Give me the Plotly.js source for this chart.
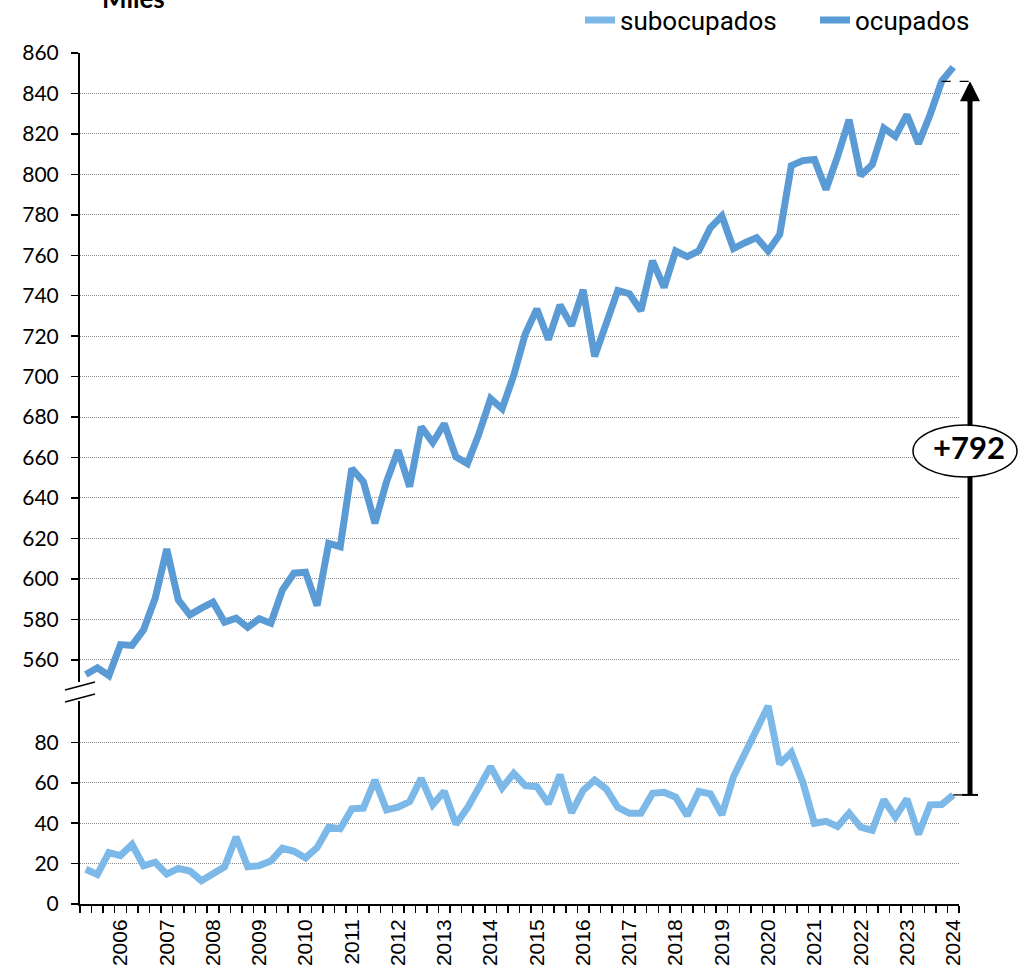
<!DOCTYPE html>
<html><head><meta charset="utf-8">
<script src="https://cdn.plot.ly/plotly-3.0.1.min.js"></script>
<style>html,body{margin:0;padding:0;background:#fff}</style>
</head><body><div id="chart" style="width:1018px;height:967px"></div>
<script>
// ---- data ----
const yearLabels = ['2006','2007','2008','2009','2010','2011','2012','2013','2014','2015','2016','2017','2018','2019','2020','2021','2022','2023','2024'];
const yearTickIdx = [3,7,11,15,19,23,27,31,35,39,43,47,51,55,59,63,67,71,75];
const subocupados = [17.2,14.6,25.5,24,29.5,18.9,20.7,14.8,17.6,16.3,11.5,15,18.4,33.2,18.4,19,21.3,27.6,26.1,22.8,27.9,38,37.3,47.1,47.5,61.4,46.6,47.9,50.7,62.2,49.1,55.8,39.5,47.6,57.8,68,57.5,64.7,58.6,58.1,49.6,64,45.2,56.2,61.4,57,47.9,44.9,44.9,54.8,55.3,52.9,43.8,55.7,54.5,44.2,63,75,87.3,98,69.3,75,60.2,40,40.9,38.4,45,38,36.5,51.6,43,52,34.5,49.1,49.3,54];
const ocupados = [552.7,556,552.2,567.5,567.1,574.8,590.4,614.7,589.6,582.2,585.5,588.5,578.6,580.6,576,580.3,578.1,594.5,602.8,603.3,586.8,617.5,615.9,654.6,648,627.5,648,663.6,645.6,675.1,667.4,676.7,660.3,657,671.8,689.1,684.1,700.6,721.1,733.4,718.3,735.4,725.2,742.9,710,726.5,742.6,741,732.6,757.2,744.1,762.1,759.3,762.1,773.6,779.4,763.3,766.2,768.7,762.1,770.3,804.3,806.8,807.3,792.5,808.9,827,799.4,804.8,822.9,818.8,829.5,815.2,829.5,846,853];
const lowerTicks = [0,20,40,60,80];
const upperTicks = [560,580,600,620,640,660,680,700,720,740,760,780,800,820,840,860];
const diffLabel = '+792';

// ---- geometry ----
const W = 1018, H = 967;
const M = {l: 80, r: 59, t: 53, b: 63, autoexpand: false};
const PW = W - M.l - M.r, PH = H - M.t - M.b;
const lowRange = [0, 100.5];
const upRange = [549, 860];
const lowDomain = [0, 203 / PH];
const upDomain = [(PH - 629) / PH, 1];
const xRange = [-0.5, subocupados.length - 0.5];

const px = p => (p - M.l) / PW;          // pixel x -> paper
const py = p => (H - M.b - p) / PH;      // pixel y -> paper
const xPaper = i => (i - xRange[0]) / (xRange[1] - xRange[0]);
const lowPaper = v => lowDomain[0] + (v - lowRange[0]) / (lowRange[1] - lowRange[0]) * (lowDomain[1] - lowDomain[0]);
const upPaper = v => upDomain[0] + (v - upRange[0]) / (upRange[1] - upRange[0]) * (upDomain[1] - upDomain[0]);

const xs = subocupados.map((_, i) => i);
const iTop = ocupados.length - 2, iBot = subocupados.length - 1;
const topVal = ocupados[iTop], botVal = subocupados[iBot];

const traces = [
  {x: xs, y: subocupados, name: 'subocupados', type: 'scatter', mode: 'lines', yaxis: 'y',
   line: {color: '#7DB9E8', width: 7}},
  {x: xs, y: ocupados, name: 'ocupados', type: 'scatter', mode: 'lines', yaxis: 'y2',
   line: {color: '#5B9BD5', width: 7}}
];

const yCommon = {
  tickmode: 'array', ticks: 'outside', ticklen: 7, tickwidth: 1.5, tickcolor: '#000',
  showline: true, linecolor: '#000', linewidth: 2,
  showgrid: true, gridcolor: '#8c8c8c', gridwidth: 1, griddash: '1px,1px',
  zeroline: false, ticklabelstandoff: 8,
  tickfont: {family: 'Lato, sans-serif', size: 21, color: '#000'}
};

const arrowX = px(970);
const layout = {
  width: W, height: H, margin: M, paper_bgcolor: '#fff', plot_bgcolor: '#fff',
  showlegend: true,
  legend: {orientation: 'h', x: px(580), xanchor: 'left', y: py(20), yanchor: 'middle',
           entrywidth: 190, entrywidthmode: 'pixels',
           font: {family: 'Roboto, sans-serif', size: 26, color: '#000'}, bgcolor: 'rgba(0,0,0,0)',
           traceorder: 'normal'},
  xaxis: {range: xRange, tickmode: 'array', tickvals: yearTickIdx, ticktext: yearLabels,
          tickangle: -90, ticks: '', showline: true, linecolor: '#000', linewidth: 2,
          showgrid: false, zeroline: false, ticklabelstandoff: 5,
          tickfont: {family: 'Liberation Sans, Arial, sans-serif', size: 21, color: '#000'},
          minor: {tick0: -0.5, dtick: 1, ticks: 'outside', ticklen: 7, tickwidth: 1.5, tickcolor: '#000', showgrid: false}},
  yaxis: Object.assign({}, yCommon, {domain: lowDomain, range: lowRange, tickvals: lowerTicks}),
  yaxis2: Object.assign({}, yCommon, {domain: upDomain, range: upRange, tickvals: upperTicks, anchor: 'x'}),
  shapes: [
    // axis break marks
    {type: 'line', xref: 'paper', yref: 'paper', x0: px(65), y0: py(690), x1: px(95), y1: py(682), line: {color: '#000', width: 1.5}},
    {type: 'line', xref: 'paper', yref: 'paper', x0: px(65), y0: py(702), x1: px(95), y1: py(694), line: {color: '#000', width: 1.5}},
    // dashed reference lines
    {type: 'line', xref: 'paper', yref: 'paper', x0: xPaper(iTop), x1: px(976), y0: upPaper(topVal), y1: upPaper(topVal), line: {color: '#000', width: 1.3, dash: 'dash'}},
    {type: 'line', xref: 'paper', yref: 'paper', x0: xPaper(iBot), x1: px(962), y0: lowPaper(botVal), y1: lowPaper(botVal), line: {color: '#000', width: 1.3, dash: 'dash'}},
    // vertical arrow shaft
    {type: 'line', xref: 'paper', yref: 'paper', x0: arrowX, x1: arrowX, y0: lowPaper(botVal), y1: upPaper(topVal) - 12 / PH, line: {color: '#000', width: 5}},
    // bottom bar
    {type: 'line', xref: 'paper', yref: 'paper', x0: px(962), x1: px(978), y0: lowPaper(botVal), y1: lowPaper(botVal), line: {color: '#000', width: 2}},
    // ellipse
    {type: 'circle', xref: 'paper', yref: 'paper', x0: px(913), x1: px(1017), y0: py(477), y1: py(425), fillcolor: '#fff', line: {color: '#000', width: 1.5}}
  ],
  annotations: [
    {text: '<b>Miles</b>', xref: 'paper', yref: 'paper', x: px(100), y: py(16), xanchor: 'left', yanchor: 'bottom', showarrow: false,
     font: {family: 'Lato, sans-serif', size: 26, color: '#000'}},
    {text: '<b>' + diffLabel + '</b>', xref: 'paper', yref: 'paper', x: px(969), y: py(447), xanchor: 'center', yanchor: 'middle', showarrow: false,
     font: {family: 'Lato, sans-serif', size: 31, color: '#000'}},
    {text: '', xref: 'paper', yref: 'paper', x: arrowX, y: upPaper(topVal), showarrow: true, ax: 0, ay: 22,
     arrowhead: 2, arrowsize: 0.8, arrowwidth: 5, arrowcolor: '#000', standoff: 0}
  ]
};

Plotly.newPlot('chart', traces, layout, {displayModeBar: false, staticPlot: true});
</script>
</body></html>
